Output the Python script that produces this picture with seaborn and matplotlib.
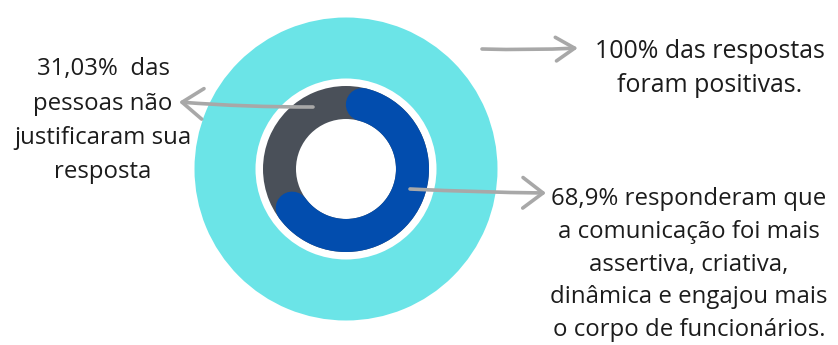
import numpy as np
import matplotlib
matplotlib.use("Agg")
import matplotlib.pyplot as plt
import seaborn as sns

# ---- data ----
total_positive = [100]                 # outer ring: 100% positive
segments = ["Comunicação melhor", "Não justificaram"]
segment_values = [68.9, 31.03]         # inner ring

left_lines = ["31,03%  das", "pessoas não", "justificaram sua", "resposta"]
top_lines = ["100% das respostas", "foram positivas."]
bottom_lines = ["68,9% responderam que", "a comunicação foi mais",
                "assertiva, criativa,", "dinâmica e engajou mais",
                "o corpo de funcionários."]

# ---- style ----
sns.set_theme(style="white")
plt.rcParams['font.family'] = ['Open Sans', 'DejaVu Sans']

CYAN = "#6BE4E7"
BLUE = "#024DAE"
GRAY = "#4A5059"
ARROW = "#A8A8A8"
TEXT = "#1C1C1C"

W, H = 838, 345
fig = plt.figure(figsize=(W / 100, H / 100), dpi=100)
ax = fig.add_axes([0, 0, 1, 1])

cx, cy = 346, 169
R_out, R_white = 151.5, 90.5
R_in_out, R_in_in = 83, 50

# outer ring (100%)
ax.pie(total_positive, radius=R_out, center=(cx, cy), colors=[CYAN],
       wedgeprops=dict(width=R_out - R_white, edgecolor="none"), frame=False)

# inner ring background (gray): whole of both segments
ax.pie([sum(segment_values)], radius=R_in_out, center=(cx, cy), colors=[GRAY],
       wedgeprops=dict(width=R_in_out - R_in_in, edgecolor="none",
                       linewidth=0), frame=False)

# blue arc with rounded ends for the 68.9% segment
r_mid = (R_in_out + R_in_in) / 2
ring_w = R_in_out - R_in_in
span = segment_values[0] / sum(segment_values) * 360.0
cap = np.degrees((ring_w / 2) / r_mid)
theta = np.radians(np.linspace(cap, span - cap, 300))
ax.plot(cx + r_mid * np.sin(theta), cy - r_mid * np.cos(theta),
        color=BLUE, lw=ring_w * 0.72, solid_capstyle="round", zorder=5)

ax.set_xlim(0, W)
ax.set_ylim(H, 0)
ax.set_aspect("equal")
ax.axis("off")

# arrows
def arrow(x0, y0, x1, y1, rad=0.0, hl=1.35, hw=0.85):
    ax.annotate("", xy=(x1, y1), xytext=(x0, y0),
                arrowprops=dict(arrowstyle=f"->,head_length={hl},head_width={hw}",
                                color=ARROW, lw=2.6, mutation_scale=10,
                                shrinkA=0, shrinkB=0,
                                connectionstyle=f"arc3,rad={rad}",
                                joinstyle="round", capstyle="round"),
                zorder=6)

arrow(482, 49, 578, 48, rad=0.02)
arrow(313, 107, 179, 102, rad=-0.02, hl=1.5, hw=1.1)
arrow(410, 189, 546, 193, rad=0.01, hl=1.45, hw=1.1)

fs = 17.3
for i, t in enumerate(left_lines):
    ax.text(103, 75 + i * 34.5, t, ha="center", va="baseline",
            fontsize=fs, color=TEXT)
for i, t in enumerate(top_lines):
    ax.text(710, 58 + i * 34.5, t, ha="center", va="baseline",
            fontsize=17.9, color=TEXT)
for i, t in enumerate(bottom_lines):
    ax.text(689, 205 + i * 32.8, t, ha="center", va="baseline",
            fontsize=fs, color=TEXT)

fig.savefig("out.png", dpi=100, facecolor="white")
